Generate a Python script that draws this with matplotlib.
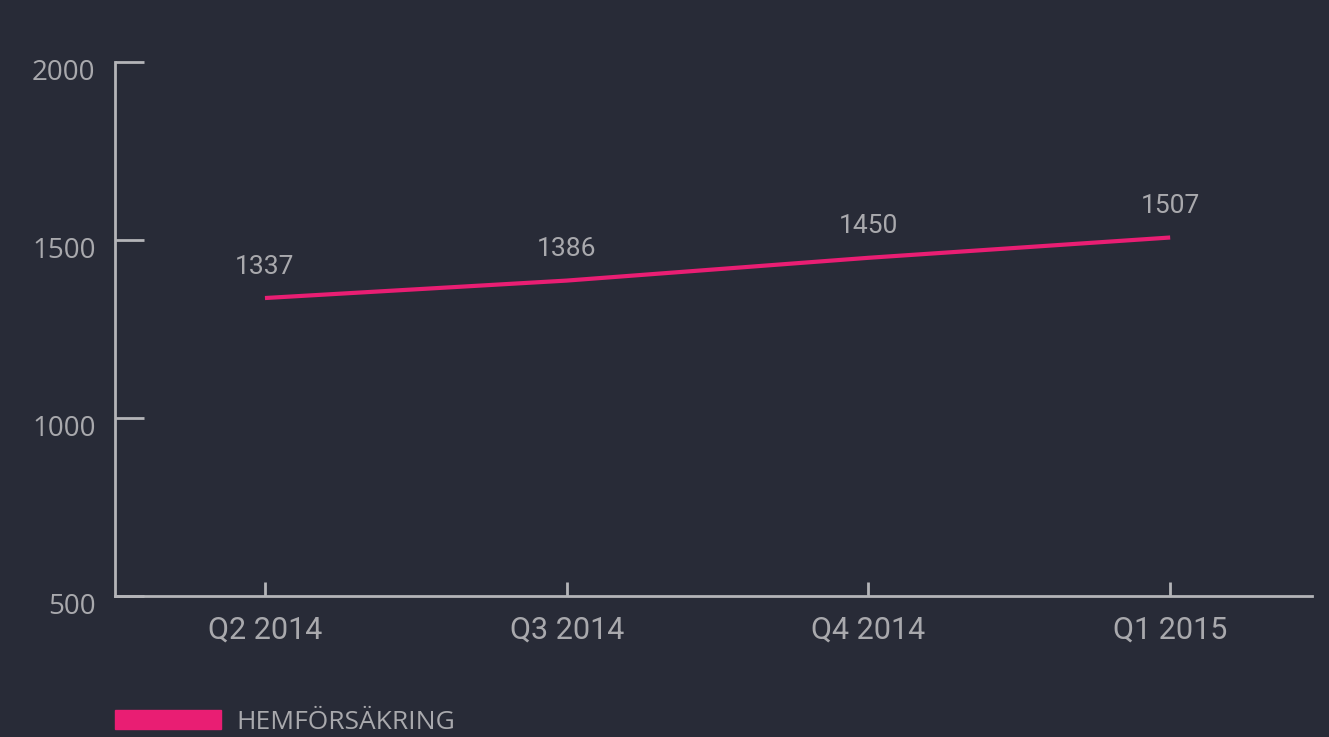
import numpy as np
import matplotlib.pyplot as plt
from matplotlib.patches import Patch
from matplotlib.transforms import ScaledTranslation

categories = ["Q2 2014", "Q3 2014", "Q4 2014", "Q1 2015"]
values = [1337, 1386, 1450, 1507]
series_name = "HEMFÖRSÄKRING"
yticks = [500, 1000, 1500, 2000]

bg = "#282b37"
line_col = "#e91e73"
axis_col = "#b4b4b8"
text_col = "#a9a9ad"

fig = plt.figure(figsize=(13.29, 7.37), dpi=100, facecolor=bg)
ax = fig.add_axes([115/1329, 1 - 596/737, (1312 - 115)/1329, (596 - 62)/737])
ax.set_facecolor(bg)

x = np.arange(len(categories))
ax.plot(x, values, color=line_col, lw=3, solid_capstyle="butt")
for xi, v in zip(x, values):
    ax.annotate(str(v), (xi, v), xytext=(0, 14), textcoords="offset points",
                ha="center", va="bottom", color=text_col, fontsize=19, family="Roboto")

ax.set_xlim(-0.497, 3.47)
ax.set_ylim(500, 2000)
ax.set_xticks(x)
ax.set_xticklabels(categories, family="Roboto", fontsize=22, color=text_col)
ax.set_yticks(yticks)
ax.set_yticklabels([str(t) for t in yticks], family="Open Sans", fontsize=20, color=text_col)

for s in ["top", "right"]:
    ax.spines[s].set_visible(False)
for s in ["left", "bottom"]:
    ax.spines[s].set_color(axis_col)
    ax.spines[s].set_linewidth(2)
ax.tick_params(axis="y", direction="in", length=21, width=2, color=axis_col, pad=14)
ax.tick_params(axis="x", direction="in", length=10, width=2, color=axis_col, pad=14)

# y labels sit a bit below their ticks in the original
shift = ScaledTranslation(0, -8/100, fig.dpi_scale_trans)
for lbl in ax.get_yticklabels():
    lbl.set_transform(lbl.get_transform() + shift)

fig.legend(handles=[Patch(color=line_col, label=series_name)], loc="lower left",
           bbox_to_anchor=(115/1329, 0.003), frameon=False, handlelength=4.0,
           handleheight=0.72, handletextpad=0.6, borderpad=0, borderaxespad=0,
           prop={"family": "Open Sans", "size": 19}, labelcolor=text_col)

fig.savefig("out.png", dpi=100, facecolor=bg)
